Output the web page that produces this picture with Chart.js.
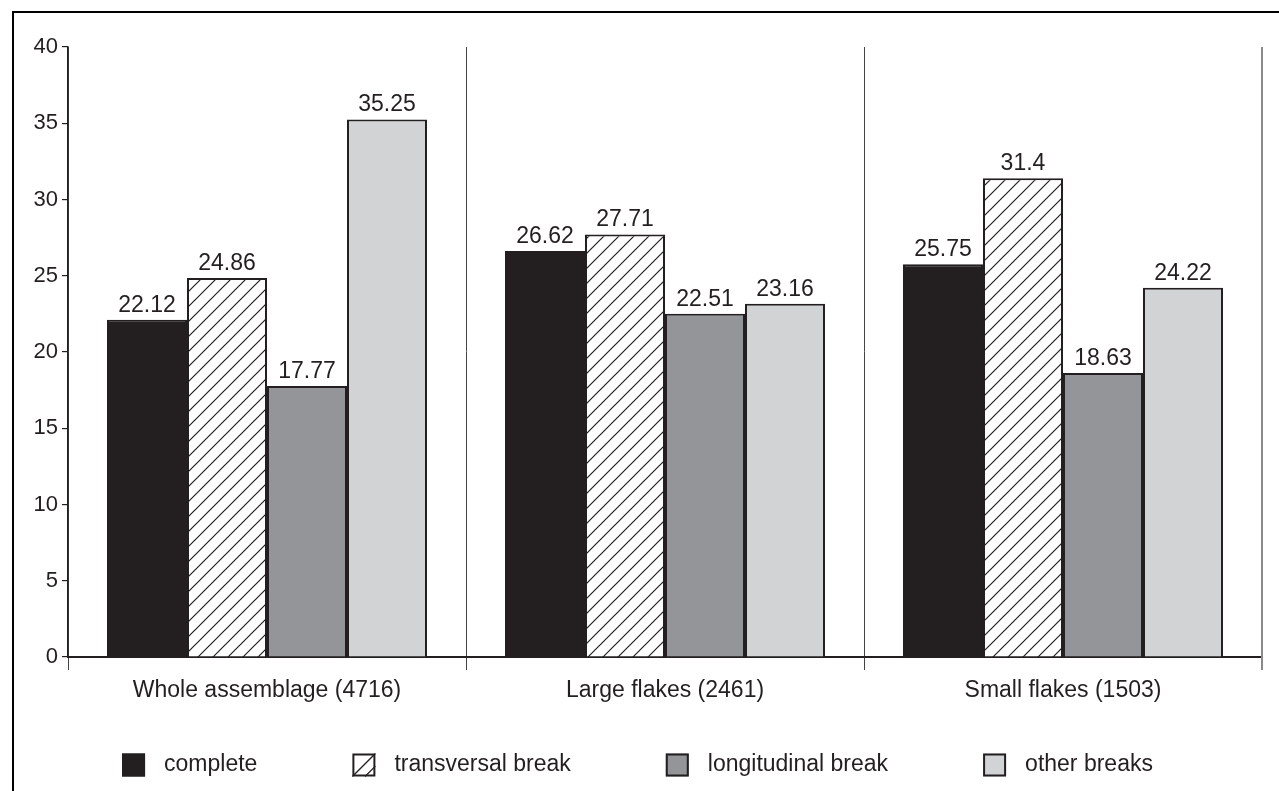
<!DOCTYPE html>
<html>
<head>
<meta charset="utf-8">
<script src="https://cdn.jsdelivr.net/npm/chart.js@4.4.1/dist/chart.umd.min.js"></script>
<style>
  body { margin: 0; background: #fff; }
  canvas { display: block; }
</style>
</head>
<body>
<canvas id="breakCtx" width="1279" height="791"></canvas>
<script>
// values (percent of flakes)
const categories = ['Whole assemblage (4716)', 'Large flakes (2461)', 'Small flakes (1503)'];
const complete = [22.12, 26.62, 25.75];
const transversal = [24.86, 27.71, 31.4];
const longitudinal = [17.77, 22.51, 18.63];
const otherBreaks = [35.25, 23.16, 24.22];
const yTicks = [0, 5, 10, 15, 20, 25, 30, 35, 40];

const ink = '#231f20';
const fontFamily = '"Liberation Sans", Arial, Helvetica, sans-serif';

// diagonal hatch used for the transversal break bars
function makeHatch() {
    const size = 15;
    const c = document.createElement('canvas');
    c.width = size;
    c.height = size;
    const g = c.getContext('2d');
    g.fillStyle = '#fff';
    g.fillRect(0, 0, size, size);
    g.strokeStyle = ink;
    g.lineWidth = 1.2;
    g.beginPath();
    g.moveTo(0, size); g.lineTo(size, 0);
    g.moveTo(-2, 2); g.lineTo(2, -2);
    g.moveTo(size - 2, size + 2); g.lineTo(size + 2, size - 2);
    g.stroke();
    return g.createPattern(c, 'repeat');
}

const ctx = document.getElementById('breakCtx').getContext('2d');
const hatch = makeHatch();

// frame round the figure (only left and top are visible in the crop)
const framePlugin = {
    id: 'frame',
    beforeDraw(chart) {
        const g = chart.ctx;
        g.save();
        g.fillStyle = '#fff';
        g.fillRect(0, 0, chart.width, chart.height);
        g.strokeStyle = '#000';
        g.lineWidth = 2;
        g.beginPath();
        g.moveTo(13, chart.height);
        g.lineTo(13, 12);
        g.lineTo(chart.width, 12);
        g.stroke();
        g.restore();
    },
    // closing separator on the right end of the plot
    afterDraw(chart) {
        const a = chart.chartArea;
        const g = chart.ctx;
        g.save();
        g.strokeStyle = '#8a8a8a';
        g.lineWidth = 2;
        g.beginPath();
        g.moveTo(a.right, a.top);
        g.lineTo(a.right, a.bottom + 13);
        g.stroke();
        g.restore();
    }
};

// numbers written above every bar
const valueLabels = {
    id: 'valueLabels',
    afterDatasetsDraw(chart) {
        const g = chart.ctx;
        g.save();
        g.font = '23px ' + fontFamily;
        g.fillStyle = ink;
        g.textAlign = 'center';
        g.textBaseline = 'alphabetic';
        chart.data.datasets.forEach((ds, i) => {
            chart.getDatasetMeta(i).data.forEach((bar, j) => {
                g.fillText(String(ds.data[j]), bar.x, bar.y - 8);
            });
        });
        g.restore();
    }
};

// legend row at the bottom, drawn by hand to get the wide spacing
const bottomLegend = {
    id: 'bottomLegend',
    afterDraw(chart) {
        const g = chart.ctx;
        const box = 23, gap = 19, spacing = 95, yMid = 765;
        g.save();
        g.font = '23px ' + fontFamily;
        const items = chart.data.datasets.map(ds => ({ ds, w: g.measureText(ds.label).width }));
        const total = items.reduce((s, it) => s + box + gap + it.w, 0) + spacing * (items.length - 1);
        let x = chart.width / 2 - 2 - total / 2;
        items.forEach(it => {
            const top = yMid - box / 2;
            g.fillStyle = it.ds.legendFill;
            g.fillRect(x, top, box, box);
            g.strokeStyle = ink;
            g.lineWidth = 2;
            if (it.ds.legendFill === '#fff') {
                g.lineWidth = 1.3;
                g.beginPath();
                g.moveTo(x, top + box); g.lineTo(x + box, top);
                g.moveTo(x + box * 0.55, top + box); g.lineTo(x + box, top + box * 0.55);
                g.stroke();
                g.lineWidth = 2;
            }
            g.strokeRect(x + 1, top + 1, box - 2, box - 2);
            g.fillStyle = ink;
            g.textAlign = 'left';
            g.textBaseline = 'middle';
            g.fillText(it.ds.label, x + box + gap, yMid);
            x += box + gap + it.w + spacing;
        });
        g.restore();
    }
};

var breakChart = new Chart(ctx, {
    type: 'bar',
    data: {
        labels: categories,
        datasets: [
            { label: 'complete', data: complete, backgroundColor: ink, legendFill: ink },
            { label: 'transversal break', data: transversal, backgroundColor: hatch, legendFill: '#fff' },
            { label: 'longitudinal break', data: longitudinal, backgroundColor: '#939598', legendFill: '#939598' },
            { label: 'other breaks', data: otherBreaks, backgroundColor: '#d1d3d4', legendFill: '#d1d3d4' }
        ]
    },
    options: {
        responsive: false,
        animation: false,
        layout: { padding: { left: 0, top: 47, right: 17, bottom: 0 } },
        datasets: {
            bar: {
                borderColor: ink,
                borderWidth: 2,
                categoryPercentage: 0.804,
                barPercentage: 1.0
            }
        },
        plugins: {
            legend: { display: false },
            tooltip: { enabled: false }
        },
        scales: {
            x: {
                afterFit(scale) { scale.height = 134; },
                grid: {
                    offset: true,
                    drawOnChartArea: true,
                    tickLength: 13,
                    color: '#444',
                    lineWidth: 1
                },
                border: { color: ink, width: 2 },
                ticks: {
                    color: ink,
                    padding: 7,
                    font: { family: fontFamily, size: 23 }
                }
            },
            y: {
                min: 0,
                max: 40,
                afterFit(scale) { scale.width = 68; },
                afterBuildTicks(scale) { scale.ticks = yTicks.map(v => ({ value: v })); },
                grid: { drawOnChartArea: false, tickLength: 6, color: ink, lineWidth: 1.2 },
                border: { color: ink, width: 1.5 },
                ticks: {
                    color: ink,
                    padding: 4,
                    font: { family: fontFamily, size: 22 }
                }
            }
        }
    },
    plugins: [framePlugin, valueLabels, bottomLegend]
});
</script>
</body>
</html>
